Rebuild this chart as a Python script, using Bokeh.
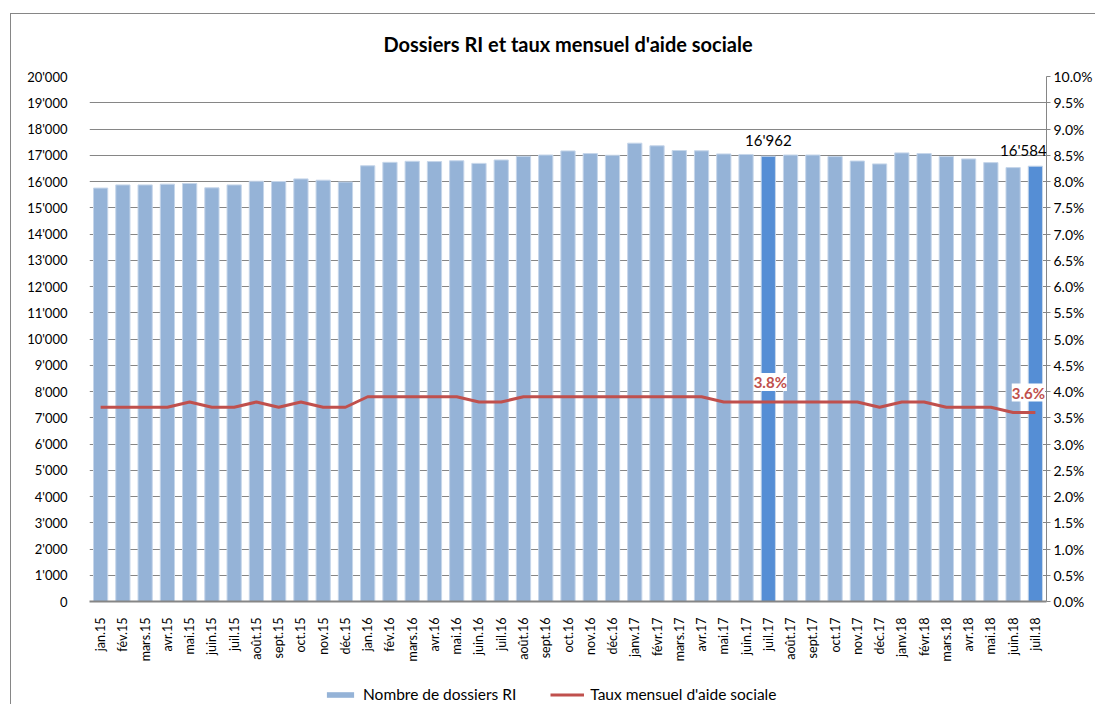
from bokeh.plotting import figure
from bokeh.layouts import column
from bokeh.models import (ColumnDataSource, Range1d, LinearAxis, FixedTicker,
                          CustomJSTickFormatter, Legend, LegendItem, LabelSet, Label, FactorRange)
from bokeh.core.properties import value
from bokeh.embed import file_html
from bokeh.resources import INLINE
import math

# ---------------- data ----------------
months = ["jan.15", "fév.15", "mars.15", "avr.15", "mai.15", "juin.15", "juil.15", "août.15",
          "sept.15", "oct.15", "nov.15", "déc.15",
          "jan.16", "fév.16", "mars.16", "avr.16", "mai.16", "juin.16", "juil.16", "août.16",
          "sept.16", "oct.16", "nov.16", "déc.16",
          "janv.17", "févr.17", "mars.17", "avr.17", "mai.17", "juin.17", "juil.17", "août.17",
          "sept.17", "oct.17", "nov.17", "déc.17",
          "janv.18", "févr.18", "mars.18", "avr.18", "mai.18", "juin.18", "juil.18"]

dossiers = [15750, 15870, 15870, 15900, 15925, 15760, 15870, 16010, 16000, 16100, 16050, 15980,
            16600, 16730, 16770, 16760, 16790, 16690, 16820, 16960, 17010, 17165, 17065, 17000,
            17460, 17360, 17180, 17170, 17050, 17030, 16962, 17010, 17010, 16950, 16780, 16670,
            17090, 17065, 16950, 16860, 16720, 16530, 16584]

taux = [3.7, 3.7, 3.7, 3.7, 3.8, 3.7, 3.7, 3.8, 3.7, 3.8, 3.7, 3.7,
        3.9, 3.9, 3.9, 3.9, 3.9, 3.8, 3.8, 3.9, 3.9, 3.9, 3.9, 3.9,
        3.9, 3.9, 3.9, 3.9, 3.8, 3.8, 3.8, 3.8, 3.8, 3.8, 3.8, 3.7,
        3.8, 3.8, 3.7, 3.7, 3.7, 3.6, 3.6]

labelled_months = ["juil.17", "juil.18"]

left_ticks = list(range(0, 20001, 1000))
left_tick_labels = ["0", "1'000", "2'000", "3'000", "4'000", "5'000", "6'000", "7'000",
                    "8'000", "9'000", "10'000", "11'000", "12'000", "13'000", "14'000",
                    "15'000", "16'000", "17'000", "18'000", "19'000", "20'000"]
right_ticks = [i * 0.5 for i in range(21)]

title_text = "Dossiers RI et taux mensuel d'aide sociale"
bar_name = "Nombre de dossiers RI"
line_name = "Taux mensuel d'aide sociale"

# ---------------- styling ----------------
FONT = "Lato"
BAR = "#95B3D7"
BAR_HI = "#558ED5"
RED = "#C0504D"
GRID = "#868686"
W = 1095
LEFT_LINE = "linear-gradient(#868686,#868686) 10px 0px / 1px 100% no-repeat"
TOP_BG = (f"{LEFT_LINE.replace('0px /', '13px /')}, "
          "linear-gradient(#868686,#868686) 10px 13px / 100% 1px no-repeat, white")
SIDE_BG = f"{LEFT_LINE}, white"


def strip(fig):
    fig.border_fill_alpha = 0
    fig.background_fill_alpha = 0
    fig.outline_line_color = None
    fig.grid.grid_line_color = None


colors = [BAR_HI if m in labelled_months else BAR for m in months]
src = ColumnDataSource(dict(m=months, d=dossiers, t=taux, c=colors))

lab_idx = [months.index(m) for m in labelled_months]
last = len(months) - 1
lab_src = ColumnDataSource(dict(
    m=[months[i] for i in lab_idx],
    d=[dossiers[i] for i in lab_idx],
    t=[taux[i] for i in lab_idx],
    dtxt=[f"{dossiers[i]:,}".replace(",", "'") for i in lab_idx],
    ttxt=[f"{taux[i]:.1f}%" for i in lab_idx],
    dx=[-12 if i == last else 0 for i in lab_idx],
    tx=[-7 if i == last else 2 for i in lab_idx],
))

xr = FactorRange(*months)

# ---- title strip ----
pt = figure(width=W, height=60, x_range=Range1d(0, 1), y_range=Range1d(0, 1),
            output_backend="svg", toolbar_location=None,
            x_axis_location=None, y_axis_location=None, min_border=0)
pt.styles = {"background": TOP_BG}
strip(pt)
pt.add_layout(Label(x=0.5, y=17, y_units="screen", text=title_text, text_align="center",
                    text_baseline="middle", text_font=FONT, text_font_size="20px",
                    text_font_style="bold", text_color="black"))

# ---- main chart ----
p = figure(width=W, height=620, x_range=xr, y_range=Range1d(0, 20000),
           output_backend="svg", toolbar_location=None,
           min_border_left=89, min_border_right=43, min_border_top=16, min_border_bottom=79)
p.styles = {"background": SIDE_BG}
p.border_fill_alpha = 0
p.outline_line_color = None
p.background_fill_color = "white"

p.extra_y_ranges = {"pct": Range1d(0, 10)}

bars = p.vbar(x="m", top="d", width=0.64, source=src, fill_color="c",
              line_color="#C6D6EA", line_width=1)
line = p.line(x="m", y="t", source=src, y_range_name="pct", line_color=RED, line_width=3)

p.xgrid.grid_line_color = None
p.ygrid.grid_line_color = GRID
p.ygrid.grid_line_width = 1
p.ygrid.ticker = FixedTicker(ticks=left_ticks)

ya = p.yaxis[0]
ya.ticker = FixedTicker(ticks=left_ticks)
ya.major_label_overrides = {t: l for t, l in zip(left_ticks, left_tick_labels)}
ya.axis_line_color = None
ya.major_tick_line_color = None
ya.minor_tick_line_color = None
ya.major_label_standoff = 16
ya.major_label_text_font = FONT
ya.major_label_text_font_size = "13px"
ya.major_label_text_color = "black"

ra = LinearAxis(y_range_name="pct", ticker=FixedTicker(ticks=right_ticks),
                formatter=CustomJSTickFormatter(code="return tick.toFixed(1) + '%';"))
ra.axis_line_color = GRID
ra.axis_line_width = 1
ra.major_tick_line_color = GRID
ra.major_tick_in = 0
ra.major_tick_out = 4
ra.minor_tick_line_color = None
ra.major_label_standoff = 3
ra.major_label_text_font = FONT
ra.major_label_text_font_size = "14px"
ra.major_label_text_color = "black"
p.add_layout(ra, "right")

xa = p.xaxis[0]
xa.major_label_orientation = math.pi / 2
xa.axis_line_color = GRID
xa.axis_line_width = 2
xa.major_tick_line_color = None
xa.major_label_standoff = 10
xa.major_label_text_font = FONT
xa.major_label_text_font_size = "12.5px"
xa.major_label_text_color = "black"

p.add_layout(LabelSet(x="m", y="d", text="dtxt", source=lab_src, text_align="center",
                      text_baseline="bottom", y_offset=7, x_offset="dx",
                      text_font=value(FONT), text_font_size="15px", text_color="black"))
p.add_layout(LabelSet(x="m", y="t", text="ttxt", source=lab_src, y_range_name="pct",
                      text_align="center", text_baseline="middle", y_offset=20, x_offset="tx",
                      text_font=value(FONT), text_font_size="15px", text_font_style="bold",
                      text_color=RED, background_fill_color="white",
                      border_line_color=None))

# ---- legend strip (hidden copies of the two series provide the legend keys) ----
pl = figure(width=W, height=24, x_range=xr, y_range=Range1d(0, 20000),
            output_backend="svg", toolbar_location=None,
            x_axis_location=None, y_axis_location=None, min_border=0)
pl.styles = {"background": SIDE_BG}
strip(pl)
lbars = pl.vbar(x="m", top="d", width=0.64, source=src, fill_color=BAR, line_color=None,
                visible=False)
lline = pl.line(x="m", y="d", source=src, line_color=RED, line_width=3, visible=False)
legend = Legend(items=[LegendItem(label=bar_name, renderers=[lbars]),
                       LegendItem(label=line_name, renderers=[lline])],
                orientation="horizontal", location=(234, 1), border_line_color=None,
                background_fill_alpha=0, inactive_fill_alpha=0,
                label_text_font=FONT, label_text_font_size="15.5px", label_text_color="black",
                glyph_width=34, glyph_height=7, label_height=17, label_standoff=6,
                spacing=34, margin=0, padding=0)
pl.add_layout(legend, "center")

open("out.html", "w").write(file_html(column(pt, p, pl, spacing=0), INLINE))
